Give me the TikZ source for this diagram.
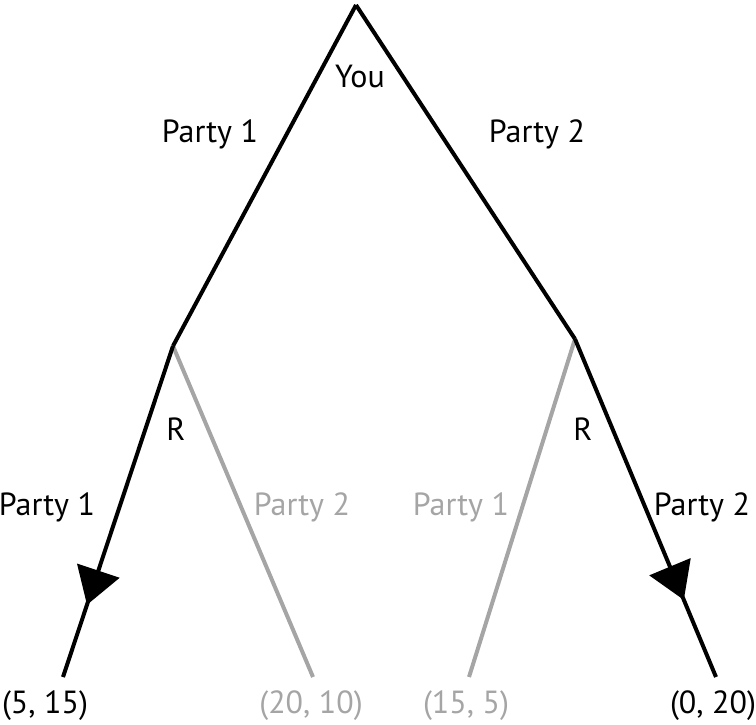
\documentclass[tikz,border=0pt]{standalone}
\usepackage{fontspec}
\setmainfont{PT Sans}
\usetikzlibrary{arrows.meta,decorations.markings}
\definecolor{lgray}{RGB}{165,165,165}
\tikzset{
  lbl/.style={anchor=base,inner sep=0pt,font=\fontsize{32}{36}\selectfont},
  glbl/.style={lbl,text=lgray},
  bline/.style={line width=4pt,black,line join=miter},
  gline/.style={line width=4pt,lgray},
  midarrow/.style={postaction={decorate},decoration={markings,
     mark=at position #1 with {\arrow{Triangle[length=36pt,width=44pt]}}}}
}
\begin{document}
\begin{tikzpicture}[x=1pt,y=-1pt]
\useasboundingbox (0,0) rectangle (756,724);
\coordinate (top) at (356,5);
\coordinate (L) at (173,346);
\coordinate (R) at (575,339);
\coordinate (LL) at (63,677);
\coordinate (LR) at (313,677);
\coordinate (RL) at (469,677);
\coordinate (RR) at (716,677);
% gray branches
\draw[gline] (L) -- (LR);
\draw[gline] (R) -- (RL);
% black path
\draw[bline] (top) -- (L);
\draw[bline] (top) -- (R);
\draw[bline,midarrow=0.782] (L) -- (LL);
\draw[bline,midarrow=0.772] (R) -- (RR);
% labels
\node[lbl] (you) at (360,87) {You};
\node[lbl] (p1a) at (210,142) {Party 1};
\node[lbl] (p2a) at (537,142) {Party 2};
\node[lbl] (rl) at (176,440) {R};
\node[lbl] (rr) at (583,440) {R};
\node[lbl] (p1b) at (47,515) {Party 1};
\node[glbl] (p2b) at (302,515) {Party 2};
\node[glbl] (p1c) at (461,515) {Party 1};
\node[lbl] (p2c) at (702,515) {Party 2};
\node[lbl] (o1) at (45,713) {(5, 15)};
\node[glbl] (o2) at (311,713) {(20, 10)};
\node[glbl] (o3) at (466,713) {(15, 5)};
\node[lbl] (o4) at (713,713) {(0, 20)};
\end{tikzpicture}
\end{document}
